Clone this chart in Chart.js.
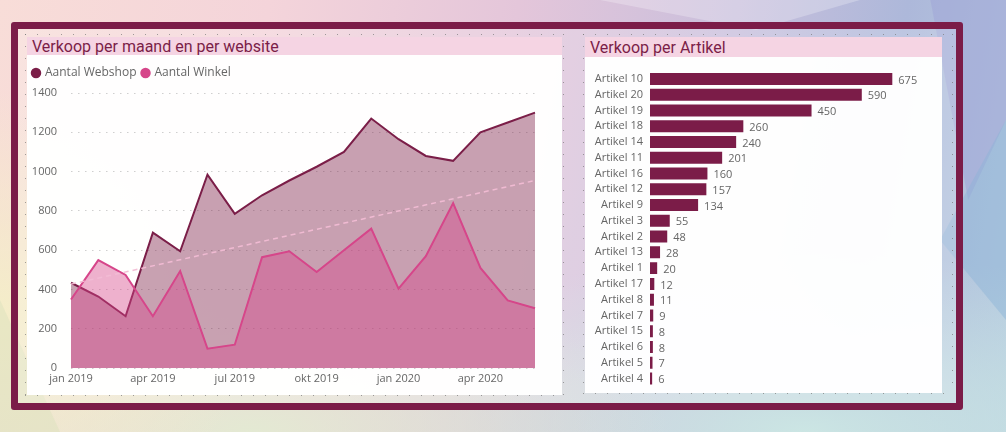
<!DOCTYPE html>
<html>
<head>
<meta charset="utf-8">
<script src="https://cdn.jsdelivr.net/npm/chart.js@4.4.1/dist/chart.umd.min.js"></script>
<style>
  html, body { margin: 0; padding: 0; }
  body {
    width: 1006px; height: 432px; overflow: hidden; position: relative;
    font-family: 'Open Sans', sans-serif;
    background:
      radial-gradient(ellipse 260px 220px at 0% 72%, rgba(244, 238, 200, 0.95), rgba(244, 238, 200, 0) 100%),
      radial-gradient(ellipse 420px 160px at 25% 100%, rgba(226, 236, 210, 0.9), rgba(226, 236, 210, 0) 100%),
      radial-gradient(ellipse 500px 180px at 80% 100%, rgba(205, 232, 228, 0.95), rgba(205, 232, 228, 0) 100%),
      linear-gradient(100deg, #f8ddd8 0%, #f4d4da 25%, #e4c6da 48%, #c9bfdc 68%, #adb8da 84%, #b7cde0 100%);
  }
  .shape { position: absolute; }
  #frame {
    position: absolute; left: 11px; top: 22px; width: 952px; height: 388px;
    box-sizing: border-box; border: 7px solid #7b1c48; border-radius: 3px;
    background: rgba(255, 255, 255, 0.2);
  }
  .dots {
    position: absolute;
    background:
      repeating-linear-gradient(90deg, rgba(120,120,120,0.7) 0 1px, transparent 1px 12px) left top / 100% 1px no-repeat,
      repeating-linear-gradient(90deg, rgba(120,120,120,0.7) 0 1px, transparent 1px 12px) left bottom / 100% 1px no-repeat,
      repeating-linear-gradient(180deg, rgba(120,120,120,0.7) 0 1px, transparent 1px 12px) left top / 1px 100% no-repeat,
      repeating-linear-gradient(180deg, rgba(120,120,120,0.7) 0 1px, transparent 1px 12px) right top / 1px 100% no-repeat;
  }
  .panel { position: absolute; background: rgba(255, 255, 255, 0.97); }
  .title {
    position: absolute; background: #f5d4e3; color: #7b1e48;
    font-family: Roboto, sans-serif; font-size: 16px;
    padding-left: 5px; box-sizing: border-box; white-space: nowrap; overflow: visible;
  }
  .box { position: absolute; }
  .box canvas { display: block; }
</style>
</head>
<body>
  <div class="shape" style="left:880px;top:0;width:126px;height:200px;background:rgba(160,165,215,0.55);clip-path:polygon(40% 0,100% 0,100% 60%,70% 100%);"></div>
  <div class="shape" style="left:940px;top:120px;width:66px;height:200px;background:rgba(140,180,215,0.45);clip-path:polygon(100% 0,100% 100%,0 60%);"></div>
  <div class="shape" style="left:600px;top:0;width:260px;height:30px;background:rgba(255,255,255,0.25);clip-path:polygon(0 0,100% 0,60% 100%);"></div>
  <div class="shape" style="left:0;top:300px;width:60px;height:132px;background:rgba(220,225,190,0.5);clip-path:polygon(0 0,100% 100%,0 100%);"></div>

  <div id="frame"></div>

  <div class="dots" style="left:25px;top:34px;width:539px;height:362px;"></div>
  <div class="panel" style="left:27px;top:37px;width:535px;height:358px;"></div>
  <div class="title" style="left:27px;top:37px;width:535px;height:18px;line-height:20px;">Verkoop per maand en per website</div>
  <div class="box" style="left:27px;top:55px;width:535px;height:340px;"><canvas id="lineChart"></canvas></div>

  <div class="dots" style="left:583px;top:34px;width:370px;height:360px;"></div>
  <div class="panel" style="left:585px;top:37px;width:357px;height:356px;"></div>
  <div class="title" style="left:585px;top:37px;width:357px;height:20px;line-height:22px;">Verkoop per Artikel</div>
  <div class="box" style="left:585px;top:57px;width:356px;height:343px;"><canvas id="barChart"></canvas></div>

<script>
// maandverkoop
const months = ['jan 2019', 'feb 2019', 'mrt 2019', 'apr 2019', 'mei 2019', 'jun 2019',
  'jul 2019', 'aug 2019', 'sep 2019', 'okt 2019', 'nov 2019', 'dec 2019',
  'jan 2020', 'feb 2020', 'mrt 2020', 'apr 2020', 'mei 2020', 'jun 2020'];
const webshop = [435, 365, 265, 690, 595, 985, 785, 880, 955, 1025, 1100, 1270, 1165, 1080, 1055, 1200, 1250, 1300];
const winkel = [350, 550, 475, 265, 495, 100, 120, 565, 595, 490, 600, 710, 405, 570, 840, 510, 345, 305];
const trend = [428, null, null, null, null, null, null, null, null, null, null, null, null, null, null, null, null, 955];
const monthTicks = ['jan 2019', 'apr 2019', 'jul 2019', 'okt 2019', 'jan 2020', 'apr 2020'];

// verkoop per artikel
const artikels = ['Artikel 10', 'Artikel 20', 'Artikel 19', 'Artikel 18', 'Artikel 14', 'Artikel 11',
  'Artikel 16', 'Artikel 12', 'Artikel 9', 'Artikel 3', 'Artikel 2', 'Artikel 13', 'Artikel 1',
  'Artikel 17', 'Artikel 8', 'Artikel 7', 'Artikel 15', 'Artikel 6', 'Artikel 5', 'Artikel 4'];
const artikelValues = [675, 590, 450, 260, 240, 201, 160, 157, 134, 55, 48, 28, 20, 12, 11, 9, 8, 8, 7, 6];

const tickColor = '#666';

// legenda iets hoger maken zodat de plot op de goede plek begint
const legendSpace = {
    id: 'legendSpace',
    beforeInit(chart) {
        const origFit = chart.legend.fit;
        chart.legend.fit = function () {
            origFit.call(this);
            this.height += 4;
        };
    }
};

const lineCtx = document.getElementById('lineChart').getContext('2d');
const lineChart = new Chart(lineCtx, {
    type: 'line',
    data: {
        labels: months,
        datasets: [{
            label: 'Aantal Webshop',
            data: webshop,
            borderColor: '#7b1e48',
            backgroundColor: 'rgba(123, 30, 72, 0.42)',
            pointBackgroundColor: '#7b1e48',
            pointBorderColor: '#7b1e48',
            borderWidth: 2,
            pointRadius: 0,
            fill: 'origin',
            order: 2
        }, {
            label: 'Aantal Winkel',
            data: winkel,
            borderColor: '#d6468a',
            backgroundColor: 'rgba(214, 70, 138, 0.42)',
            pointBackgroundColor: '#d6468a',
            pointBorderColor: '#d6468a',
            borderWidth: 2,
            pointRadius: 0,
            fill: 'origin',
            order: 1
        }, {
            label: 'Trend',
            data: trend,
            borderColor: 'rgba(242, 188, 212, 0.95)',
            borderDash: [5, 4],
            borderWidth: 1.5,
            pointRadius: 0,
            fill: false,
            spanGaps: true,
            order: 0
        }]
    },
    options: {
        responsive: true,
        maintainAspectRatio: false,
        animation: false,
        layout: { padding: { top: 6, right: 27, bottom: 5.5, left: 0 } },
        plugins: {
            tooltip: { enabled: false },
            legend: {
                position: 'top',
                align: 'start',
                labels: {
                    usePointStyle: true,
                    pointStyle: 'circle',
                    boxWidth: 6,
                    boxHeight: 6,
                    padding: 6,
                    color: tickColor,
                    font: { family: 'Open Sans', size: 12 },
                    filter: item => item.datasetIndex < 2,
                    sort: (a, b) => a.datasetIndex - b.datasetIndex
                }
            }
        },
        scales: {
            x: {
                grid: { display: false, drawTicks: false },
                border: { display: false },
                ticks: {
                    autoSkip: false,
                    maxRotation: 0,
                    padding: 4,
                    color: tickColor,
                    font: { family: 'Open Sans', size: 11 },
                    callback: function (value, index) {
                        const label = months[index];
                        return monthTicks.includes(label) ? label : '';
                    }
                }
            },
            y: {
                min: 0,
                max: 1400,
                afterFit: scale => { scale.width = 44; },
                grid: { color: '#cfcfcf', drawTicks: false },
                border: { display: false, dash: [1.5, 5.5] },
                ticks: {
                    stepSize: 200,
                    padding: 14,
                    color: tickColor,
                    font: { family: 'Open Sans', size: 11 },
                    callback: value => String(value)
                }
            }
        }
    },
    plugins: [legendSpace]
});

// waarde rechts naast elke balk
const barLabels = {
    id: 'barLabels',
    afterDatasetsDraw(chart) {
        const ctx = chart.ctx;
        const meta = chart.getDatasetMeta(0);
        ctx.save();
        ctx.font = '11px "Open Sans"';
        ctx.fillStyle = tickColor;
        ctx.textBaseline = 'middle';
        ctx.textAlign = 'left';
        meta.data.forEach((bar, i) => {
            ctx.fillText(artikelValues[i], bar.x + 6, bar.y + 1.5);
        });
        ctx.restore();
    }
};

const barCtx = document.getElementById('barChart').getContext('2d');
const barChart = new Chart(barCtx, {
    type: 'bar',
    data: {
        labels: artikels,
        datasets: [{
            label: 'Verkoop',
            data: artikelValues,
            backgroundColor: '#7b1c48',
            categoryPercentage: 1,
            barPercentage: 0.76
        }]
    },
    options: {
        indexAxis: 'y',
        responsive: true,
        maintainAspectRatio: false,
        animation: false,
        layout: { padding: { top: 14, right: 11, bottom: 0, left: 0 } },
        plugins: {
            legend: { display: false },
            tooltip: { enabled: false }
        },
        scales: {
            x: {
                display: false,
                min: 0,
                max: 780
            },
            y: {
                afterFit: scale => { scale.width = 65; },
                grid: { display: false, drawTicks: false },
                border: { display: false },
                ticks: {
                    autoSkip: false,
                    padding: 7,
                    color: tickColor,
                    font: { family: 'Open Sans', size: 11 }
                }
            }
        }
    },
    plugins: [barLabels]
});
</script>
</body>
</html>
